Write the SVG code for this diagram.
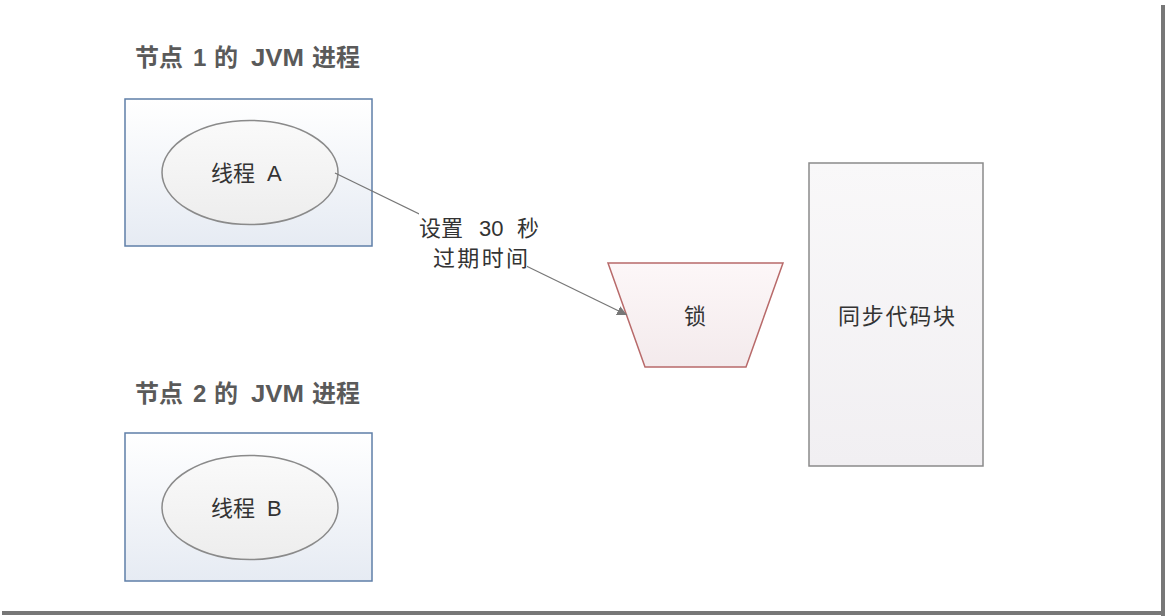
<svg xmlns="http://www.w3.org/2000/svg" width="1165" height="616" viewBox="0 0 1165 616">
<style>
.title{font-family:"Liberation Sans","Noto Sans CJK SC",sans-serif;font-size:24px;font-weight:bold;fill:#5a5a5a;}
.lbl{font-family:"Liberation Sans","Noto Sans CJK SC",sans-serif;font-size:22px;fill:#333;}
.proc{fill:url(#gBlue);stroke:#5f7fa8;stroke-width:1.5;}
.thread{fill:url(#gGray);stroke:#8a8a8a;stroke-width:1.5;}
</style>
<defs>
<linearGradient id="gBlue" x1="0" y1="0" x2="0" y2="1"><stop offset="0" stop-color="#ffffff"/><stop offset="1" stop-color="#e6ebf3"/></linearGradient>
<linearGradient id="gGray" x1="0" y1="0" x2="0" y2="1"><stop offset="0" stop-color="#fafafa"/><stop offset="1" stop-color="#ededed"/></linearGradient>
<linearGradient id="gPink" x1="0" y1="0" x2="0" y2="1"><stop offset="0" stop-color="#fdf7f8"/><stop offset="1" stop-color="#f3eaec"/></linearGradient>
<linearGradient id="gCode" x1="0" y1="0" x2="0" y2="1"><stop offset="0" stop-color="#f9f8f9"/><stop offset="1" stop-color="#f1eff2"/></linearGradient>
<marker id="arr" viewBox="0 0 10 10" refX="10" refY="5" markerWidth="10" markerHeight="10" markerUnits="userSpaceOnUse" orient="auto"><path d="M0,0 L10,5 L0,10 z" fill="#777"/></marker>
</defs>
<rect width="1165" height="616" fill="#ffffff"/>
<rect x="1161" y="5" width="4" height="611" fill="#777"/>
<rect x="2" y="611" width="1163" height="4" fill="#777"/>

<g id="node1">
<text class="title" y="66"><tspan x="135">节点</tspan> <tspan x="193">1</tspan> <tspan x="214">的</tspan> <tspan x="251" textLength="53" lengthAdjust="spacingAndGlyphs">JVM</tspan> <tspan x="312">进程</tspan></text>
<rect class="proc" x="125" y="99" width="247" height="147"/>
<g id="threadA">
<ellipse class="thread" cx="250" cy="172.5" rx="88" ry="52"/>
<text class="lbl" y="181"><tspan x="211">线程</tspan> <tspan x="267">A</tspan></text>
</g>
</g>

<g id="node2">
<text class="title" y="402"><tspan x="135">节点</tspan> <tspan x="193">2</tspan> <tspan x="214">的</tspan> <tspan x="251" textLength="53" lengthAdjust="spacingAndGlyphs">JVM</tspan> <tspan x="312">进程</tspan></text>
<rect class="proc" x="125" y="433" width="247" height="148"/>
<g id="threadB">
<ellipse class="thread" cx="250" cy="507.5" rx="88" ry="52"/>
<text class="lbl" y="516"><tspan x="211">线程</tspan> <tspan x="267">B</tspan></text>
</g>
</g>

<g id="lock">
<polygon points="608,263 783,263 746,367 645,367" fill="url(#gPink)" stroke="#b86a6a" stroke-width="1.5"/>
<text class="lbl" x="695" y="324" text-anchor="middle">锁</text>
</g>

<g id="syncblock">
<rect x="809" y="163" width="174" height="303" fill="url(#gCode)" stroke="#8a8a8a" stroke-width="1.5"/>
<text class="lbl" x="838" y="324" textLength="117" lengthAdjust="spacing">同步代码块</text>
</g>

<g id="connectors">
<line x1="335" y1="173" x2="627" y2="315" stroke="#777" stroke-width="1.3" marker-end="url(#arr)"/>
<rect x="419" y="212" width="108" height="60" fill="#ffffff"/>
<text class="lbl" y="236"><tspan x="419">设置</tspan> <tspan x="479">30</tspan> <tspan x="517">秒</tspan></text>
<text class="lbl" x="433" y="266" textLength="95" lengthAdjust="spacing">过期时间</text>
</g>
</svg>
